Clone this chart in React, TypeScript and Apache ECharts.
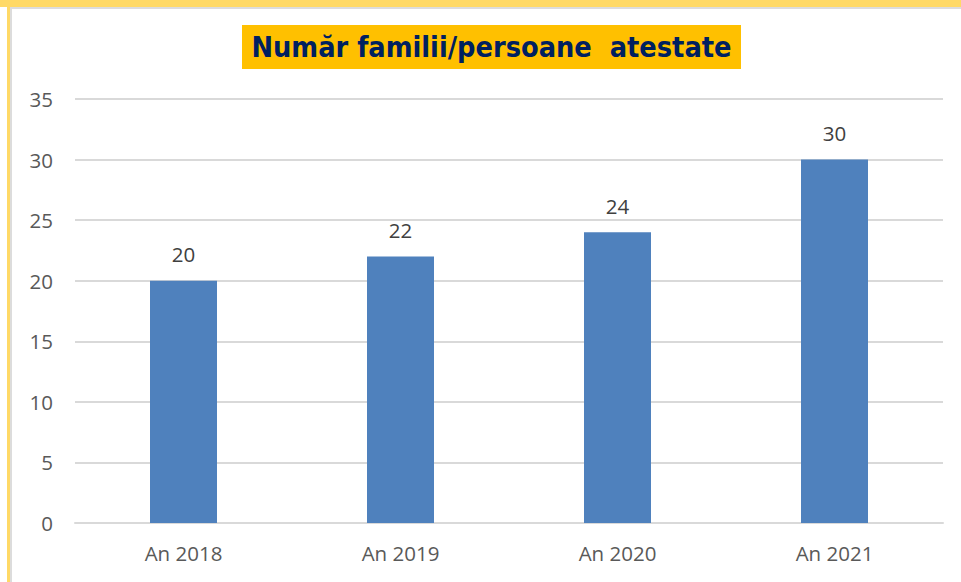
import React, { useEffect, useRef } from "react";
import * as echarts from "echarts";

const categories = ["An 2018", "An 2019", "An 2020", "An 2021"];
const values = [20, 22, 24, 30];
const titleText = "Număr familii/persoane  atestate";

export default function App() {
  const ref = useRef<HTMLDivElement>(null);
  useEffect(() => {
    document.body.style.margin = "0";
    const chart = echarts.init(ref.current!, null, { renderer: "svg" });
    chart.setOption({
      animation: false,
      backgroundColor: "#ffffff",
      graphic: [
        { type: "rect", shape: { x: 0, y: 0, width: 961, height: 7 }, style: { fill: "#FFD966" }, z: 10 },
        { type: "rect", shape: { x: 10, y: 7, width: 951, height: 2 }, style: { fill: "#DCDCDC" }, z: 10 },
        { type: "rect", shape: { x: 7, y: 7, width: 3, height: 575 }, style: { fill: "#FFD966" }, z: 10 },
        { type: "rect", shape: { x: 10, y: 9, width: 2, height: 573 }, style: { fill: "#DCDCDC" }, z: 10 },
        { type: "rect", shape: { x: 242, y: 25, width: 499, height: 44 }, style: { fill: "#FFC000" }, z: 10 },
        {
          type: "text",
          x: 491.5,
          y: 47,
          z: 11,
          style: {
            text: titleText,
            fill: "#002060",
            font: "bold 28.6px 'DejaVu Sans Condensed'",
            align: "center",
            verticalAlign: "middle",
          },
        },
      ],
      grid: { left: 75, right: 18, top: 99, bottom: 59, containLabel: false },
      xAxis: {
        type: "category",
        data: categories,
        axisLine: { lineStyle: { color: "#D9D9D9", width: 2 } },
        axisTick: { show: false },
        axisLabel: { color: "#595959", fontSize: 20.5, fontFamily: "Open Sans", margin: 19 },
      },
      yAxis: {
        type: "value",
        min: 0,
        max: 35,
        interval: 5,
        axisLine: { show: false },
        axisTick: { show: false },
        splitLine: { lineStyle: { color: "#D9D9D9", width: 2 } },
        axisLabel: { color: "#595959", fontSize: 20.5, fontFamily: "Open Sans", margin: 22 },
      },
      series: [
        {
          type: "bar",
          data: values,
          barWidth: 67,
          itemStyle: { color: "#4F81BD" },
          label: {
            show: true,
            position: "top",
            distance: 16,
            color: "#404040",
            fontSize: 20.5,
            fontFamily: "Open Sans",
          },
        },
      ],
    });
    return () => chart.dispose();
  }, []);
  return <div ref={ref} style={{ position: "absolute", left: 0, top: 0, width: 961, height: 582 }} />;
}
